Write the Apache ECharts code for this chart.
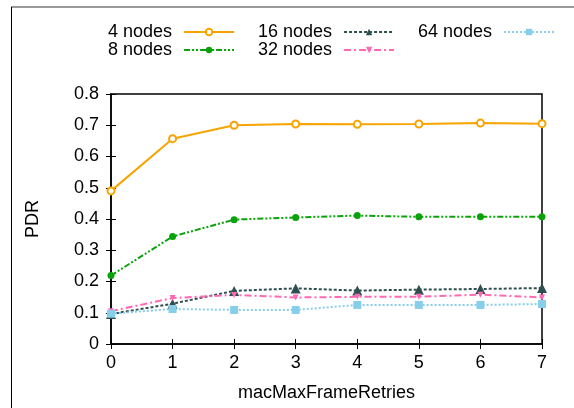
<!DOCTYPE html>
<html>
<head>
<meta charset="utf-8">
<script src="https://cdn.jsdelivr.net/npm/echarts@6/dist/echarts.min.js"></script>
<style>
  html, body { margin: 0; padding: 0; background: #fff; }
  #chart { width: 574px; height: 408px; }
</style>
</head>
<body>
<div id="chart"></div>
<script>
const retries = [0, 1, 2, 3, 4, 5, 6, 7]
const yTicks = [0, 0.1, 0.2, 0.3, 0.4, 0.5, 0.6, 0.7, 0.8]
const nodes4 = [0.49, 0.657, 0.70, 0.704, 0.703, 0.704, 0.707, 0.705]
const nodes8 = [0.219, 0.344, 0.398, 0.405, 0.411, 0.407, 0.407, 0.407]
const nodes16 = [0.096, 0.129, 0.170, 0.178, 0.171, 0.174, 0.176, 0.179]
const nodes32 = [0.105, 0.147, 0.157, 0.149, 0.151, 0.151, 0.158, 0.149]
const nodes64 = [0.097, 0.112, 0.109, 0.109, 0.125, 0.125, 0.125, 0.128]

const FONT = "Liberation Sans"
const FS = 18
const pairs = (arr) => arr.map((v, i) => [retries[i], v])

let myChart = echarts.init(document.getElementById("chart"))

// one legend per entry so they can sit in gnuplot's key layout
const legendAt = (name, left, top) => ({
  data: [name],
  left: left,
  top: top,
  align: "right",
  itemWidth: 50,
  itemHeight: 8,
  padding: 0,
  selectedMode: false,
  textStyle: { fontFamily: FONT, fontSize: FS, color: "#000", padding: [0, 7, 0, 0] },
})

const tickStyle = { show: true, inside: true, length: 5, lineStyle: { color: "#000", width: 1 } }

myChart.setOption({
  animation: false,
  legend: [
    legendAt("4 nodes", 108, 23),
    legendAt("8 nodes", 108, 41),
    legendAt("16 nodes", 258, 23),
    legendAt("32 nodes", 258, 41),
    legendAt("64 nodes", 418, 23),
  ],
  grid: {
    left: 111,
    top: 94,
    width: 431,
    height: 250,
    show: true,
    borderColor: "#000",
    borderWidth: 1.5,
  },
  xAxis: [
    {
      type: "value",
      min: 0,
      max: 7,
      interval: 1,
      name: "macMaxFrameRetries",
      nameLocation: "middle",
      nameGap: 40,
      nameTextStyle: { fontFamily: FONT, fontSize: FS, color: "#000" },
      axisLine: { show: true, lineStyle: { color: "#000", width: 1.5 } },
      axisTick: tickStyle,
      axisLabel: { fontFamily: FONT, fontSize: FS, color: "#000", margin: 10 },
      splitLine: { show: false },
    },
    {
      type: "value",
      position: "top",
      min: 0,
      max: 7,
      interval: 1,
      axisLine: { show: false },
      axisTick: tickStyle,
      axisLabel: { show: false },
      splitLine: { show: false },
    },
  ],
  yAxis: [
    {
      type: "value",
      min: yTicks[0],
      max: yTicks[yTicks.length - 1],
      interval: 0.1,
      name: "PDR",
      nameLocation: "middle",
      nameGap: 69,
      nameTextStyle: { fontFamily: FONT, fontSize: FS, color: "#000" },
      axisLine: { show: true, lineStyle: { color: "#000", width: 1.5 } },
      axisTick: tickStyle,
      axisLabel: {
        fontFamily: FONT,
        fontSize: FS,
        color: "#000",
        margin: 12,
        formatter: (v) => String(Math.round(v * 10) / 10),
      },
      splitLine: { show: false },
    },
    {
      type: "value",
      position: "right",
      min: yTicks[0],
      max: yTicks[yTicks.length - 1],
      interval: 0.1,
      axisLine: { show: false },
      axisTick: tickStyle,
      axisLabel: { show: false },
      splitLine: { show: false },
    },
  ],
  series: [
    {
      name: "4 nodes",
      type: "line",
      data: pairs(nodes4),
      symbol: "emptyCircle",
      symbolSize: 7,
      color: "#f7a400",
      lineStyle: { width: 2, color: "#f7a400" },
      itemStyle: { color: "#f7a400", borderWidth: 2 },
    },
    {
      name: "8 nodes",
      type: "line",
      data: pairs(nodes8),
      symbol: "circle",
      symbolSize: 7,
      color: "#0aa20a",
      lineStyle: { width: 2, color: "#0aa20a", type: [6, 2, 2, 2, 2, 2] },
      itemStyle: { color: "#0aa20a" },
    },
    {
      name: "16 nodes",
      type: "line",
      data: pairs(nodes16),
      symbol: "triangle",
      symbolSize: 10,
      color: "#2f4f4f",
      lineStyle: { width: 2, color: "#2f4f4f", type: [3, 2] },
      itemStyle: { color: "#2f4f4f" },
    },
    {
      name: "32 nodes",
      type: "line",
      data: pairs(nodes32),
      symbol: "triangle",
      symbolRotate: 180,
      symbolSize: 6,
      color: "#ff69b4",
      lineStyle: { width: 2, color: "#ff69b4", type: [7, 3, 2, 3] },
      itemStyle: { color: "#ff69b4" },
    },
    {
      name: "64 nodes",
      type: "line",
      data: pairs(nodes64),
      symbol: "rect",
      symbolSize: 8,
      color: "#87ceeb",
      lineStyle: { width: 2, color: "#87ceeb", type: [2, 2] },
      itemStyle: { color: "#87ceeb" },
    },
  ],
  graphic: [
    { type: "line", shape: { x1: 11, y1: 7, x2: 574, y2: 7 }, style: { stroke: "#777", lineWidth: 1.5 } },
    { type: "line", shape: { x1: 11.5, y1: 7, x2: 11.5, y2: 408 }, style: { stroke: "#000", lineWidth: 1 } },
  ],
})

window.addEventListener("resize", () => {
  myChart.resize()
})
</script>
</body>
</html>
